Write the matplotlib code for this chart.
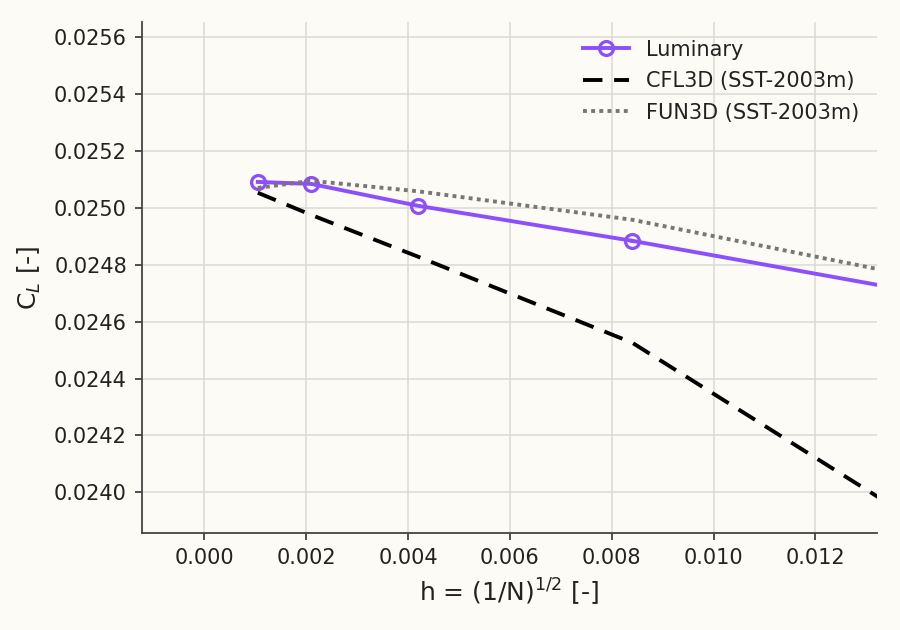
import matplotlib
matplotlib.use("Agg")
import matplotlib.pyplot as plt

# grid spacing h = (1/N)^(1/2)
h = [0.00105, 0.0021, 0.0042, 0.0084, 0.0168]

cl_luminary = [0.025091, 0.025084, 0.025007, 0.024884, 0.024614]
cl_cfl3d = [0.025053, 0.024975, 0.024828, 0.024526, 0.023582]
cl_fun3d = [0.025070, 0.025095, 0.025058, 0.024958, 0.024656]

bg = "#fcfbf5"
purple = "#8c4ffb"

plt.rcParams["font.family"] = "DejaVu Sans"
fig = plt.figure(figsize=(9, 6.3), dpi=100, facecolor=bg)
ax = fig.add_axes([0.158, 0.154, 0.816, 0.811], facecolor=bg)

ax.plot(h[:4], cl_luminary[:4], color=purple, lw=2.8, marker="o", ms=10,
        mfc="none", mew=2.3, label="Luminary")
ax.plot(h[3:], cl_luminary[3:], color=purple, lw=2.8)
ax.plot(h, cl_cfl3d, color="black", lw=2.8, ls=(0, (5, 3)), label="CFL3D (SST-2003m)")
ax.plot(h, cl_fun3d, color="#777777", lw=2.8, ls=(0, (1, 1.1)), label="FUN3D (SST-2003m)")

ax.set_xlim(-0.00122, 0.0132)
ax.set_ylim(0.023857, 0.025653)
ax.set_xticks([0.000, 0.002, 0.004, 0.006, 0.008, 0.010, 0.012])
ax.set_yticks([0.0240, 0.0242, 0.0244, 0.0246, 0.0248, 0.0250, 0.0252, 0.0254, 0.0256])
ax.set_xticklabels([f"{v:.3f}" for v in ax.get_xticks()])
ax.set_yticklabels([f"{v:.4f}" for v in ax.get_yticks()])

ax.grid(True, color="#dcdad5", lw=1.1)
ax.set_axisbelow(True)
for s in ["top", "right"]:
    ax.spines[s].set_visible(False)
for s in ["left", "bottom"]:
    ax.spines[s].set_color("#444444")
    ax.spines[s].set_linewidth(1.3)
ax.tick_params(labelsize=15, colors="#333333", length=5, width=1.2, pad=6)
ax.tick_params(labelcolor="#222222")

ax.set_xlabel(r"h = (1/N)$^{1/2}$ [-]", fontsize=18, color="#222222", labelpad=6)
ax.set_ylabel(r"C$_L$ [-]", fontsize=18, color="#222222", labelpad=8)

leg = ax.legend(loc="upper right", frameon=False, fontsize=15, handlelength=2.2,
                borderaxespad=0.45, labelspacing=0.55)
for t in leg.get_texts():
    t.set_color("#222222")

fig.savefig("out.png", dpi=100, facecolor=bg)
